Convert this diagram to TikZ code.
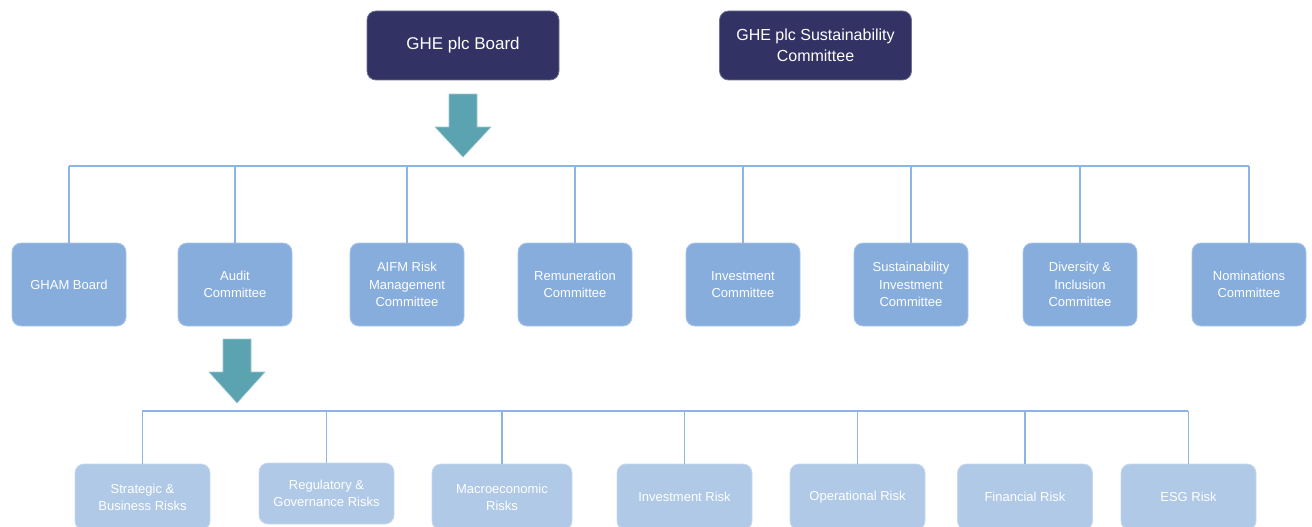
\documentclass[tikz,border=0pt]{standalone}
\usepackage{fontspec}
\setmainfont{Liberation Sans}
\definecolor{navy}{RGB}{50,50,100}
\definecolor{midbox}{RGB}{134,173,220}
\definecolor{lowbox}{RGB}{176,201,230}
\definecolor{linec}{RGB}{141,180,226}
\definecolor{arrowc}{RGB}{91,163,176}
\begin{document}
\begin{tikzpicture}[x=1pt,y=-1pt,
  topbox/.style={draw=navy!70!white, line width=0.8pt, fill=navy, rounded corners=9pt, text=white, align=center,
    minimum width=192pt, minimum height=69pt, inner sep=0pt, font=\fontsize{16}{21}\selectfont},
  midnode/.style={draw=midbox!70!white, line width=0.8pt, fill=midbox, rounded corners=9pt, text=white, align=center,
    minimum width=114pt, minimum height=83pt, inner sep=0pt, font=\fontsize{13}{17.5}\selectfont},
  lownode/.style={draw=lowbox!70!white, line width=0.8pt, fill=lowbox, rounded corners=9pt, text=white, align=center,
    minimum width=135pt, minimum height=66pt, inner sep=0pt, font=\fontsize{13}{17}\selectfont},
  conn/.style={draw=linec, line width=1.5pt},
  bigarrow/.style={fill=arrowc, draw=arrowc!60!white, line width=0.6pt}
]
\useasboundingbox (0,0) rectangle (1312,527);

% top boxes
\node[topbox, font=\fontsize{17}{21}\selectfont] (board) at (463,45.5) {GHE plc Board};
\node[topbox] (sust) at (815.5,45.5) {GHE plc Sustainability\\Committee};

% arrow 1
\fill[bigarrow] (449,94) -- (477,94) -- (477,127) -- (491,127) -- (463,157) -- (435,127) -- (449,127) -- cycle;

% middle row
\node[midnode] (gham) at (69,284.5) {GHAM Board};
\node[midnode] (audit) at (235,284.5) {Audit\\Committee};
\node[midnode] (aifm) at (407,284.5) {AIFM Risk\\Management\\Committee};
\node[midnode] (remu) at (575,284.5) {Remuneration\\Committee};
\node[midnode] (inv) at (743,284.5) {Investment\\Committee};
\node[midnode] (sinv) at (911,284.5) {Sustainability\\Investment\\Committee};
\node[midnode] (div) at (1080,284.5) {Diversity \&\\Inclusion\\Committee};
\node[midnode] (nom) at (1249,284.5) {Nominations\\Committee};

\coordinate (busL) at (69,166);
\coordinate (busR) at (1249,166);
\draw[conn] (busL) -- (busR);
\foreach \n in {gham,audit,aifm,remu,inv,sinv,div,nom}
  \draw[conn] (\n.north) -- (\n.north |- busL);

% arrow 2
\fill[bigarrow] (223,339) -- (251,339) -- (251,372) -- (265,372) -- (237,403) -- (209,372) -- (223,372) -- cycle;

% bottom row
\node[lownode] (strat) at (142.5,497) {Strategic \&\\Business Risks};
\node[lownode, minimum height=61pt] (reg) at (326.5,493.5) {Regulatory \&\\Governance Risks};
\node[lownode, minimum width=140pt] (macro) at (502,497) {Macroeconomic\\Risks};
\node[lownode] (invr) at (684.5,497) {Investment Risk};
\node[lownode] (oper) at (857.5,497) {Operational Risk};
\node[lownode] (fin) at (1025,497) {Financial Risk};
\node[lownode] (esg) at (1188.5,497) {ESG Risk};

\coordinate (bbL) at (142,411);
\coordinate (bbR) at (1188,411);
\draw[conn] (bbL) -- (bbR);
\foreach \n in {strat,reg,macro,invr,oper,fin,esg}
  \draw[conn] (\n.north) -- (\n.north |- bbL);
\end{tikzpicture}
\end{document}
